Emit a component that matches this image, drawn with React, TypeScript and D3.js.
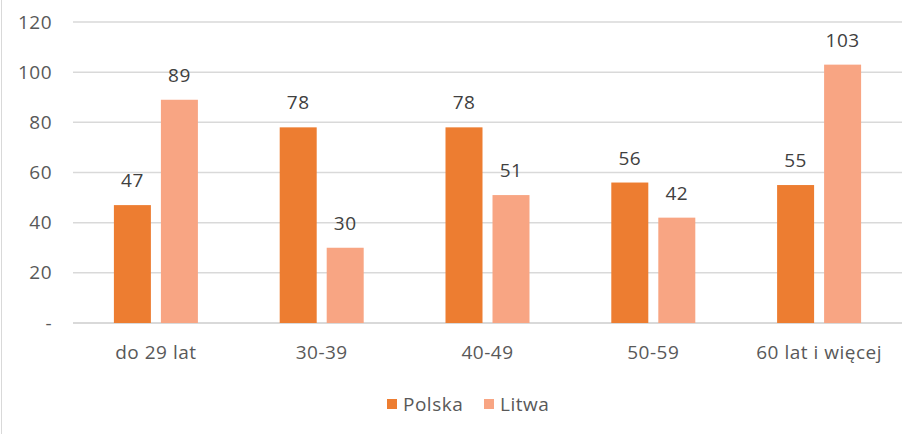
import React, { useRef, useEffect } from 'react';
import * as d3 from 'd3';

// age groups and counts
const categories = ['do 29 lat', '30-39', '40-49', '50-59', '60 lat i więcej'];
const seriesNames = ['Polska', 'Litwa'];
const polska = [47, 78, 78, 56, 55];
const litwa = [89, 30, 51, 42, 103];
const yTicks = [0, 20, 40, 60, 80, 100, 120];
const colors = ['#ED7D31', '#F8A583'];

const width = 924;
const height = 434;
const margin = { top: 22, right: 22, bottom: 111, left: 73 };
const font = '"Open Sans", Lato, sans-serif';
const fs = 19;
const ls = 0.5;

export default function App() {
  const ref = useRef<SVGSVGElement>(null);

  useEffect(() => {
    const svg = d3.select(ref.current);
    svg.selectAll('*').remove();

    const x = d3
      .scaleBand()
      .domain(categories)
      .range([margin.left, width - margin.right]);
    const y = d3
      .scaleLinear()
      .domain([0, 120])
      .range([height - margin.bottom, margin.top]);

    svg.append('rect').attr('width', width).attr('height', height).attr('fill', '#fff');
    // chart frame, only the left edge shows
    svg
      .append('line')
      .attr('x1', 1.5)
      .attr('x2', 1.5)
      .attr('y1', 0)
      .attr('y2', height)
      .attr('stroke', '#d9d9d9');

    // grid
    svg
      .append('g')
      .selectAll('line')
      .data(yTicks)
      .join('line')
      .attr('x1', margin.left)
      .attr('x2', width - margin.right)
      .attr('y1', d => y(d))
      .attr('y2', d => y(d))
      .attr('stroke', '#d9d9d9')
      .attr('stroke-width', d => (d === 0 ? 2 : 1.5));

    // y labels
    svg
      .append('g')
      .selectAll('text')
      .data(yTicks)
      .join('text')
      .attr('x', 52)
      .attr('y', d => y(d))
      .attr('dy', '0.35em')
      .attr('text-anchor', 'end')
      .attr('font-family', font)
      .attr('font-size', fs)
      .attr('letter-spacing', ls)
      .attr('fill', '#595959')
      .text(d => (d === 0 ? '-' : String(d)));

    // bars
    const barW = 37;
    const gap = 10;
    const series = [polska, litwa];
    series.forEach((vals, si) => {
      const g = svg.append('g');
      const offset = si === 0 ? -gap / 2 - barW : gap / 2;
      g.selectAll('rect')
        .data(vals)
        .join('rect')
        .attr('x', (d, i) => x(categories[i])! + x.bandwidth() / 2 + offset)
        .attr('y', d => y(d))
        .attr('width', barW)
        .attr('height', d => y(0) - y(d))
        .attr('fill', colors[si]);
      g.selectAll('text')
        .data(vals)
        .join('text')
        .attr('x', (d, i) => x(categories[i])! + x.bandwidth() / 2 + offset + barW / 2)
        .attr('y', d => y(d) - 18)
        .attr('text-anchor', 'middle')
        .attr('font-family', font)
        .attr('font-size', fs)
        .attr('letter-spacing', ls)
        .attr('fill', '#404040')
        .text(d => String(d));
    });

    // x labels
    svg
      .append('g')
      .selectAll('text')
      .data(categories)
      .join('text')
      .attr('x', d => x(d)! + x.bandwidth() / 2)
      .attr('y', 359)
      .attr('text-anchor', 'middle')
      .attr('font-family', font)
      .attr('font-size', fs)
      .attr('letter-spacing', ls)
      .attr('fill', '#595959')
      .text(d => d);

    // legend
    const legendX = [387, 484];
    const lg = svg.append('g');
    seriesNames.forEach((name, i) => {
      lg.append('rect')
        .attr('x', legendX[i])
        .attr('y', 399)
        .attr('width', 10)
        .attr('height', 10)
        .attr('fill', colors[i]);
      lg.append('text')
        .attr('x', legendX[i] + 16)
        .attr('y', 411)
        .attr('font-family', font)
        .attr('font-size', fs)
        .attr('letter-spacing', ls)
        .attr('fill', '#595959')
        .text(name);
    });
  }, []);

  return (
    <svg
      ref={ref}
      width={width}
      height={height}
      style={{ position: 'absolute', left: 0, top: 0, display: 'block' }}
    />
  );
}
